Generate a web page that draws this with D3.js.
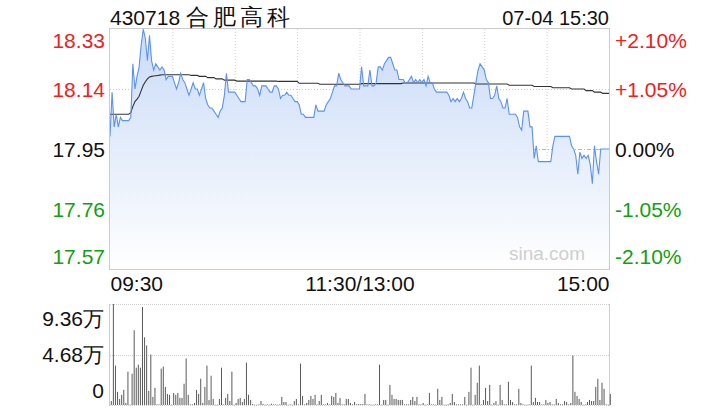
<!DOCTYPE html>
<html><head><meta charset="utf-8">
<script src="https://cdn.jsdelivr.net/npm/d3@7"></script>
<style>body{margin:0;background:#fff}svg text{font-family:"Liberation Sans",Arial,Helvetica,sans-serif}</style>
</head><body><svg id="c" width="720" height="420"></svg>
<script>
const titleCode = "430718";
const titleName = "合肥高科";
const stamp = "07-04 15:30";
const prevClose = 17.95;
const priceTicks = [18.33, 18.14, 17.95, 17.76, 17.57];
const pctTicks = ["+2.10%", "+1.05%", "0.00%", "-1.05%", "-2.10%"];
const timeLabels = ["09:30", "11:30/13:00", "15:00"];
const volTicks = [9.36, 4.68, 0];
const volTickLabels = ["9.36万", "4.68万", "0"];

const price = [
17.99,18.13,18.02,18.06,18.02,18.05,18.04,18.04,18.04,18.04,
18.05,18.22,18.14,18.18,18.21,18.28,18.33,18.30,18.23,18.31,
18.23,18.20,18.22,18.21,18.20,18.21,18.20,18.17,18.18,18.18,
18.18,18.16,18.14,18.16,18.19,18.17,18.16,18.14,18.12,18.14,
18.16,18.14,18.14,18.12,18.14,18.16,18.11,18.09,18.08,18.08,
18.07,18.06,18.05,18.07,18.08,18.12,18.19,18.13,18.13,18.13,
18.13,18.12,18.11,18.10,18.10,18.10,18.17,18.17,18.16,18.15,
18.15,18.14,18.12,18.15,18.15,18.15,18.14,18.13,18.13,18.15,
18.15,18.14,18.11,18.12,18.12,18.13,18.12,18.12,18.11,18.10,
18.10,18.09,18.06,18.06,18.05,18.05,18.05,18.05,18.05,18.09,
18.07,18.07,18.07,18.07,18.09,18.10,18.11,18.13,18.15,18.15,
18.19,18.17,18.16,18.15,18.15,18.15,18.14,18.14,18.14,18.14,
18.14,18.21,18.15,18.15,18.15,18.20,18.15,18.15,18.16,18.21,
18.21,18.20,18.22,18.23,18.24,18.24,18.22,18.20,18.20,18.17,
18.17,18.17,18.16,18.16,18.17,18.18,18.16,18.17,18.16,18.17,
18.16,18.17,18.15,18.18,18.16,18.16,18.14,18.13,18.13,18.13,
18.13,18.13,18.13,18.12,18.10,18.11,18.10,18.11,18.10,18.11,
18.13,18.11,18.10,18.08,18.08,18.12,18.16,18.20,18.22,18.21,
18.20,18.17,18.16,18.11,18.11,18.12,18.15,18.11,18.10,18.08,
18.08,18.11,18.06,18.06,18.06,18.06,18.05,18.02,18.01,18.07,
18.07,18.07,18.02,18.02,17.92,17.96,17.91,17.91,17.91,17.91,
17.91,17.91,17.91,17.96,17.99,17.99,17.99,17.99,17.99,17.99,
17.99,17.99,17.96,17.95,17.93,17.87,17.94,17.92,17.93,17.92,
17.93,17.90,17.84,17.96,17.91,17.87,17.95,17.95,17.95,17.95,
17.95
];

const avg = [
18.060,18.060,18.060,18.060,18.060,18.060,18.060,18.060,18.060,18.060,
18.065,18.085,18.100,18.108,18.117,18.135,18.152,18.163,18.172,18.178,
18.180,18.181,18.182,18.183,18.184,18.185,18.185,18.185,18.185,18.185,
18.185,18.185,18.185,18.185,18.185,18.185,18.185,18.185,18.185,18.183,
18.183,18.183,18.183,18.180,18.180,18.180,18.180,18.176,18.176,18.176,
18.176,18.172,18.172,18.172,18.172,18.168,18.168,18.168,18.168,18.168,
18.168,18.165,18.165,18.165,18.165,18.165,18.165,18.165,18.165,18.165,
18.165,18.165,18.165,18.165,18.165,18.165,18.165,18.165,18.165,18.165,
18.165,18.164,18.164,18.164,18.164,18.164,18.164,18.164,18.164,18.164,
18.164,18.158,18.158,18.158,18.158,18.158,18.158,18.158,18.158,18.158,
18.158,18.155,18.155,18.155,18.155,18.155,18.155,18.155,18.155,18.155,
18.155,18.155,18.155,18.155,18.155,18.155,18.155,18.155,18.155,18.155,
18.155,18.157,18.157,18.157,18.157,18.157,18.157,18.157,18.157,18.157,
18.157,18.157,18.157,18.157,18.157,18.157,18.157,18.157,18.157,18.157,
18.157,18.159,18.159,18.159,18.159,18.159,18.159,18.159,18.159,18.159,
18.159,18.159,18.159,18.159,18.159,18.159,18.159,18.159,18.159,18.159,
18.159,18.159,18.159,18.159,18.159,18.159,18.159,18.159,18.159,18.159,
18.159,18.159,18.159,18.159,18.159,18.159,18.156,18.156,18.156,18.156,
18.156,18.156,18.156,18.156,18.156,18.156,18.156,18.156,18.156,18.156,
18.156,18.156,18.152,18.152,18.152,18.152,18.152,18.152,18.152,18.152,
18.152,18.152,18.152,18.152,18.148,18.148,18.148,18.148,18.148,18.148,
18.148,18.148,18.148,18.144,18.144,18.144,18.144,18.144,18.144,18.144,
18.144,18.144,18.140,18.140,18.140,18.140,18.140,18.140,18.140,18.135,
18.135,18.135,18.135,18.130,18.130,18.130,18.130,18.126,18.126,18.126,
18.126
];

const volume = [
0.37,9.36,3.65,1.22,0.56,0.94,1.40,0.19,3.09,0.03,
2.90,6.93,3.46,3.74,3.46,9.08,6.27,5.52,1.31,4.68,
0.75,1.59,0.06,0.06,3.37,3.56,1.68,1.03,0.94,0.03,
1.12,0.94,1.12,0.66,0.66,1.97,4.31,0.94,0.06,0.06,
0.19,1.40,1.03,2.43,0.19,1.68,3.65,0.47,2.71,0.56,
0.03,0.03,0.56,3.46,0.06,0.66,1.03,0.37,3.09,0.03,
0.19,0.56,0.66,0.28,0.56,3.93,0.94,0.47,0.09,0.03,
0.03,0.06,0.37,0.09,0.03,0.06,0.03,0.12,0.06,0.06,
0.03,0.06,0.75,0.28,0.28,0.03,0.06,0.03,0.37,0.56,
0.06,3.84,0.84,0.06,0.19,0.47,0.84,0.56,0.94,0.06,
0.37,0.94,0.06,0.06,0.19,0.06,0.84,0.75,1.12,0.19,
0.66,0.06,0.06,0.56,0.56,0.19,0.06,0.28,0.06,0.09,
0.09,0.09,1.03,0.06,0.06,0.03,0.03,0.06,0.06,3.74,
0.03,0.47,0.47,0.03,1.87,0.94,0.56,0.56,0.47,0.47,
0.47,0.06,0.06,0.06,0.47,0.75,0.37,0.75,0.06,0.06,
0.19,0.03,0.06,1.12,0.06,0.06,0.03,1.50,0.47,0.75,
0.03,0.03,0.06,0.19,1.03,0.28,0.06,0.06,0.06,0.06,
0.75,0.03,1.22,3.46,0.03,0.94,2.06,3.65,0.06,0.47,
1.59,0.37,1.87,0.03,0.19,0.37,0.03,1.87,0.47,0.06,
0.06,2.15,0.47,0.28,0.06,0.06,1.50,0.19,0.06,0.03,
0.03,0.06,3.65,0.28,0.66,0.28,0.28,0.06,0.06,0.47,
0.19,0.28,0.06,0.06,0.56,0.19,0.06,0.06,0.37,0.28,
0.06,0.19,4.59,1.22,0.84,0.56,0.28,0.03,0.06,0.28,
0.47,0.37,0.37,1.68,2.43,0.47,2.06,1.50,0.06,0.03,
1.03
];

const RED = "#f0201c", GREEN = "#11a011", BLACK = "#111";
const FS = 21;
const svg = d3.select("#c");
const L = 110, R = 609, T = 29, B = 269, VT = 304, VB = 405;

const x = d3.scaleLinear().domain([0, 240]).range([L, R]);
const y = d3.scaleLinear().domain([17.57, 18.33]).range([B, T]);
const yv = d3.scaleLinear().domain([0, 9.36]).range([VB, VT]);

const defs = svg.append("defs");
const g = defs.append("linearGradient").attr("id", "fillg")
  .attr("gradientUnits", "userSpaceOnUse").attr("x1", 0).attr("y1", T).attr("x2", 0).attr("y2", B);
g.append("stop").attr("offset", "0").attr("stop-color", "#c9dbf7");
g.append("stop").attr("offset", "1").attr("stop-color", "#ffffff");

const vLines = [30, 60, 90, 120, 150, 180, 210];
svg.append("g").selectAll("line").data(vLines).join("line")
  .attr("x1", d => x(d) + 0.5).attr("x2", d => x(d) + 0.5).attr("y1", T).attr("y2", B)
  .attr("stroke", "#cfcfcf").attr("stroke-dasharray", "1,2");
svg.append("g").selectAll("line").data(priceTicks.filter(d => d !== 18.33 && d !== 17.57)).join("line")
  .attr("x1", L).attr("x2", R).attr("y1", d => Math.round(y(d)) + 0.5).attr("y2", d => Math.round(y(d)) + 0.5)
  .attr("stroke", d => d === prevClose ? "#b8b8b8" : "#cfcfcf")
  .attr("stroke-dasharray", d => d === prevClose ? "4,2,1,2" : "1,2");

const idx = d3.range(price.length);
svg.append("path").datum(idx)
  .attr("d", d3.area().x(i => x(i)).y0(B).y1(i => y(price[i])))
  .attr("fill", "url(#fillg)");
svg.append("path").datum(idx)
  .attr("d", d3.line().x(i => x(i)).y(i => y(avg[i])))
  .attr("fill", "none").attr("stroke", "#333").attr("stroke-width", 1.1);
svg.append("path").datum(idx)
  .attr("d", d3.line().x(i => x(i)).y(i => y(price[i])))
  .attr("fill", "none").attr("stroke", "#5b93ee").attr("stroke-width", 1.1);

svg.append("rect").attr("x", L - 0.5).attr("y", T - 0.5).attr("width", R - L + 1).attr("height", B - T + 1)
  .attr("fill", "none").attr("stroke", "#cccccc");

svg.append("text").attr("x", 585).attr("y", 260).attr("text-anchor", "end")
  .attr("font-size", 19).attr("fill", "#cfcfcf").text("sina.com");

const colorFor = v => v > prevClose ? RED : (v < prevClose ? GREEN : BLACK);
const nudge = (d, k) => k === 0 ? 11 : (k === priceTicks.length - 1 ? -13 : 0);
const la = svg.append("g").attr("transform", `translate(${L - 5},0)`)
  .call(d3.axisLeft(y).tickValues(priceTicks).tickSize(0).tickPadding(0).tickFormat(d3.format(".2f")));
la.select(".domain").remove();
la.selectAll(".tick text").attr("font-size", FS).attr("font-family", null)
  .attr("fill", d => colorFor(d)).attr("dy", (d, k) => (0.35 * FS + nudge(d, k)) + "px");

const ra = svg.append("g").attr("transform", `translate(${R + 6},0)`)
  .call(d3.axisRight(y).tickValues(priceTicks).tickSize(0).tickPadding(0)
    .tickFormat((d, k) => pctTicks[k]));
ra.select(".domain").remove();
ra.selectAll(".tick text").attr("font-size", FS).attr("font-family", null)
  .attr("fill", d => colorFor(d)).attr("dy", (d, k) => (0.35 * FS + nudge(d, k)) + "px");

const tt = svg.append("text").attr("x", L).attr("y", 25).attr("font-size", 21).attr("fill", "#111");
tt.append("tspan").text(titleCode + " ");
tt.append("tspan").attr("font-size", 23).attr("letter-spacing", 4).text(titleName);
svg.append("text").attr("x", R).attr("y", 25).attr("text-anchor", "end").attr("font-size", 20).attr("fill", "#111").text(stamp);

const timePos = [0, 120, 240];
const anchors = ["start", "middle", "end"];
const xa = svg.append("g").attr("transform", `translate(0,${B})`)
  .call(d3.axisBottom(x).tickValues(timePos).tickSize(0).tickPadding(0).tickFormat((d, k) => timeLabels[k]));
xa.select(".domain").remove();
xa.selectAll(".tick text").attr("font-size", FS).attr("font-family", null).attr("fill", "#111")
  .attr("text-anchor", (d, k) => anchors[k]).attr("dy", "22px");

svg.append("line").attr("x1", L).attr("x2", R).attr("y1", VT + 0.5).attr("y2", VT + 0.5)
  .attr("stroke", "#cfcfcf").attr("stroke-dasharray", "1,1");
svg.append("line").attr("x1", L).attr("x2", R).attr("y1", Math.round(yv(4.68)) + 0.5).attr("y2", Math.round(yv(4.68)) + 0.5)
  .attr("stroke", "#cfcfcf").attr("stroke-dasharray", "1,1");
svg.append("line").attr("x1", L).attr("x2", R).attr("y1", VB + 0.5).attr("y2", VB + 0.5)
  .attr("stroke", "#d4d4d4").attr("stroke-dasharray", "1,1");
svg.append("line").attr("x1", L - 0.5).attr("x2", L - 0.5).attr("y1", VT).attr("y2", VB + 1).attr("stroke", "#cccccc");
svg.append("line").attr("x1", R + 0.5).attr("x2", R + 0.5).attr("y1", VT).attr("y2", VB + 1).attr("stroke", "#cccccc");

svg.append("g").selectAll("rect").data(idx).join("rect")
  .attr("x", i => x(i) + 0.8).attr("width", 1)
  .attr("y", i => yv(volume[i])).attr("height", i => Math.max(0.6, VB - yv(volume[i])))
  .attr("fill", "#5a5a5a");

const vNudge = [14, 0, -15];
const va = svg.append("g").attr("transform", `translate(${L - 6},0)`)
  .call(d3.axisLeft(yv).tickValues(volTicks).tickSize(0).tickPadding(0).tickFormat((d, k) => volTickLabels[k]));
va.select(".domain").remove();
va.selectAll(".tick text").attr("font-size", FS).attr("font-family", null).attr("fill", "#111")
  .attr("dy", (d, k) => (0.35 * FS + vNudge[k]) + "px");
</script></body></html>
